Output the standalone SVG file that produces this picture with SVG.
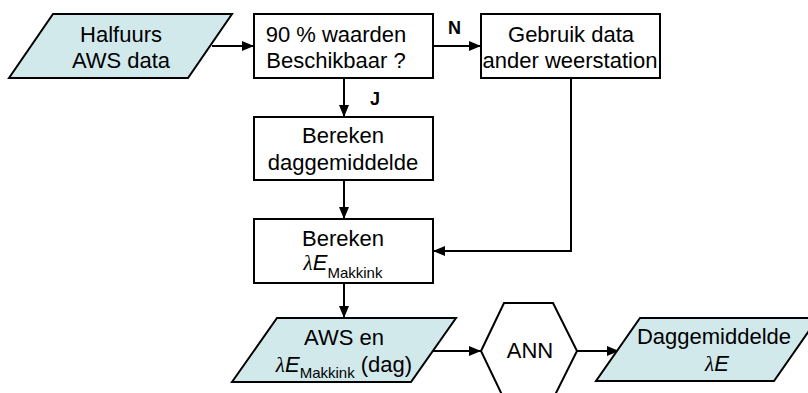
<svg xmlns="http://www.w3.org/2000/svg" width="808" height="393" viewBox="0 0 808 393">
<style>
.s{stroke:#000;stroke-width:2;fill:#fff}
.d{stroke:#000;stroke-width:2;fill:#d2e9ec}
.t{font-family:"Liberation Sans",Arial,sans-serif;font-size:22px;fill:#000;text-anchor:middle}
.b{font-weight:bold;font-size:18px;text-anchor:start}
.sub{font-size:15px}
.g{font-family:"Liberation Serif",serif;font-style:italic;font-size:21px}
.i{font-style:italic}
.c{stroke:#000;stroke-width:2;fill:none}
</style>
<defs>
<marker id="a" markerWidth="12" markerHeight="10" refX="12" refY="5" orient="auto" markerUnits="userSpaceOnUse">
<path d="M0,0 L12,5 L0,10 Z" fill="#000"/>
</marker>
</defs>
<rect width="808" height="393" fill="#fff"/>
<g id="connectors">
<path class="c" d="M212,46 H254" marker-end="url(#a)"/>
<path class="c" d="M433,46 H481" marker-end="url(#a)"/>
<path class="c" d="M344,78 V117" marker-end="url(#a)"/>
<path class="c" d="M344,180 V219" marker-end="url(#a)"/>
<path class="c" d="M571,78 V251 H433" marker-end="url(#a)"/>
<path class="c" d="M344,283 V318" marker-end="url(#a)"/>
<path class="c" d="M433,351 H481" marker-end="url(#a)"/>
<path class="c" d="M577,351 H619" marker-end="url(#a)"/>
<text class="t b" x="448" y="34">N</text>
<text class="t b" x="370" y="105">J</text>
</g>
<g id="halfuurs">
<polygon class="d" points="53,14 232,14 188,78 9,78"/>
<text class="t" x="121" y="42">Halfuurs</text>
<text class="t" x="121" y="68">AWS data</text>
</g>
<g id="beschikbaar">
<rect class="s" x="254" y="14" width="179" height="64"/>
<text class="t" x="336" y="42">90 % waarden</text>
<text class="t" x="336" y="68">Beschikbaar ?</text>
</g>
<g id="gebruik">
<rect class="s" x="481" y="14" width="179" height="64"/>
<text class="t" x="571" y="42">Gebruik data</text>
<text class="t" x="570" y="68">ander weerstation</text>
</g>
<g id="daggemiddelde-box">
<rect class="s" x="254" y="117" width="179" height="63"/>
<text class="t" x="343" y="143">Bereken</text>
<text class="t" x="343" y="170">daggemiddelde</text>
</g>
<g id="makkink-box">
<rect class="s" x="254" y="219" width="179" height="64"/>
<text class="t" x="343" y="246">Bereken</text>
<text class="t" x="343" y="270"><tspan class="g">λ</tspan><tspan class="i">E</tspan><tspan class="sub" dy="8">Makkink</tspan></text>
</g>
<g id="aws-input">
<polygon class="d" points="277,318 456,318 411,382 232,382"/>
<text class="t" x="344" y="345">AWS en</text>
<text class="t" x="344" y="372"><tspan class="g">λ</tspan><tspan class="i">E</tspan><tspan class="sub" dy="6">Makkink</tspan><tspan dy="-6"> (dag)</tspan></text>
</g>
<g id="ann">
<polygon class="s" points="481,351 504,303 553,303 577,351 553,399 504,399"/>
<text class="t" x="530" y="358">ANN</text>
</g>
<g id="output">
<polygon class="d" points="640,318 818,318 774,381 596,381"/>
<text class="t" x="714" y="344">Daggemiddelde</text>
<text class="t" x="717" y="371"><tspan class="g">λ</tspan><tspan class="i">E</tspan></text>
</g>
</svg>
